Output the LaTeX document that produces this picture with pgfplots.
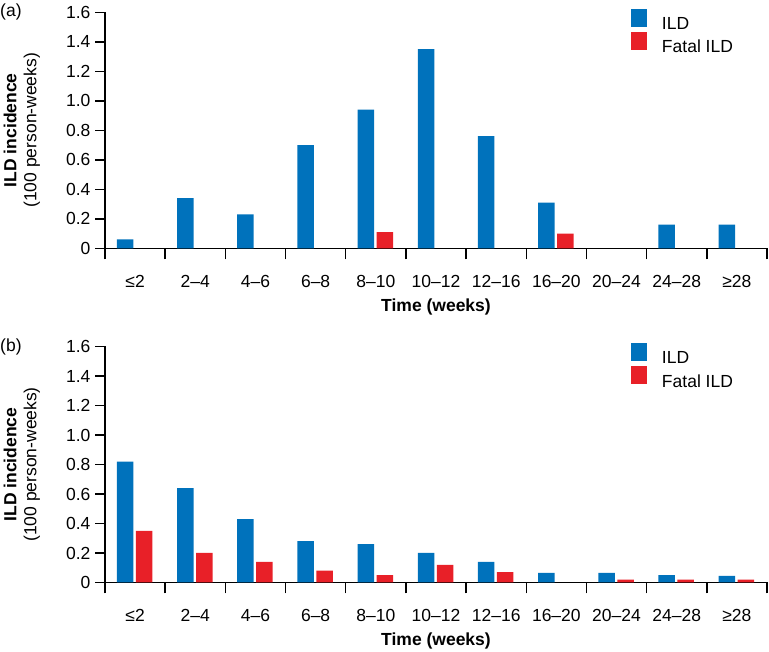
\documentclass[border=0pt]{standalone}
\usepackage{fontspec}
\setmainfont{Liberation Sans}
\usepackage{pgfplots}
\pgfplotsset{compat=1.18}
\definecolor{ildblue}{RGB}{0,114,188}
\definecolor{ildred}{RGB}{232,32,40}
\pgfplotsset{
  ildaxis/.style={
    scale only axis,
    width=662pt, height=236pt,
    xmin=-0.5, xmax=10.5,
    ymin=0, ymax=1.6,
    axis x line=bottom, axis y line=left,
    axis line style={line width=1.5pt, -},
    every tick/.style={line width=1.5pt, black},
    tick align=outside,
    major tick length=10pt, minor tick length=11pt,
    xtick={0,...,10},
    xticklabels={≤2,2–4,4–6,6–8,8–10,10–12,12–16,16–20,20–24,24–28,≥28},
    major x tick style={draw=none},
    minor xtick={-0.5,0.5,1.5,2.5,3.5,4.5,5.5,6.5,7.5,8.5,9.5,10.5},
    xticklabel style={inner sep=0pt, yshift=-16.5pt},
    ytick={0,0.2,0.4,0.6,0.8,1.0,1.2,1.4,1.6},
    yticklabels={0,0.2,0.4,0.6,0.8,1.0,1.2,1.4,1.6},
    yticklabel style={xshift=-1pt},
    /pgf/number format/assume math mode=true,
    xlabel={\bfseries Time (weeks)},
    xlabel style={at={(axis description cs:0.5,0)}, anchor=north, inner sep=0pt, yshift=-50pt},
    ylabel={\bfseries ILD incidence\\(100 person-weeks)},
    ylabel style={align=center, at={(axis description cs:-0.093,0.5)}, anchor=south},
    ybar, bar width=16.5pt,
    legend style={at={(axis description cs:0.795,1.015)}, anchor=north west,
      draw=none, fill=none, row sep=0pt, inner sep=0pt,
      nodes={inner sep=1.5pt, anchor=west}},
    legend cell align=left,
    clip=false,
  }
}
\begin{document}
\begin{tikzpicture}[font=\fontsize{17.5pt}{20pt}\selectfont]
\useasboundingbox (0,0) rectangle (769pt,652pt);
% Panel (a)
\begin{axis}[ildaxis, at={(105pt,403.7pt)}, anchor=south west]
\addplot[fill=ildblue, draw=none, bar shift=-10pt,
  legend image code/.code={\fill[ildblue] (0pt,-3pt) rectangle (16pt,15pt); \path (29pt,0pt);}]
  coordinates {(0,0.06) (1,0.34) (2,0.23) (3,0.70) (4,0.94) (5,1.35) (6,0.76) (7,0.31) (9,0.16) (10,0.16)};
\addplot[fill=ildred, draw=none, bar shift=9pt,
  legend image code/.code={\fill[ildred] (0pt,-3pt) rectangle (16pt,15pt); \path (29pt,0pt);}]
  coordinates {(4,0.11) (7,0.10)};
\legend{ILD, Fatal ILD}
\node[anchor=north west, inner sep=0pt] at (axis description cs:-0.1586,1.035) {(a)};
\end{axis}
% Panel (b)
\begin{axis}[ildaxis, at={(105pt,69.5pt)}, anchor=south west]
\addplot[fill=ildblue, draw=none, bar shift=-10pt,
  legend image code/.code={\fill[ildblue] (0pt,-3pt) rectangle (16pt,15pt); \path (29pt,0pt);}]
  coordinates {(0,0.82) (1,0.64) (2,0.43) (3,0.28) (4,0.26) (5,0.20) (6,0.14) (7,0.065) (8,0.065) (9,0.05) (10,0.045)};
\addplot[fill=ildred, draw=none, bar shift=9pt,
  legend image code/.code={\fill[ildred] (0pt,-3pt) rectangle (16pt,15pt); \path (29pt,0pt);}]
  coordinates {(0,0.35) (1,0.20) (2,0.14) (3,0.08) (4,0.05) (5,0.12) (6,0.07) (8,0.02) (9,0.02) (10,0.02)};
\legend{ILD, Fatal ILD}
\node[anchor=north west, inner sep=0pt] at (axis description cs:-0.1586,1.035) {(b)};
\end{axis}
\end{tikzpicture}
\end{document}
